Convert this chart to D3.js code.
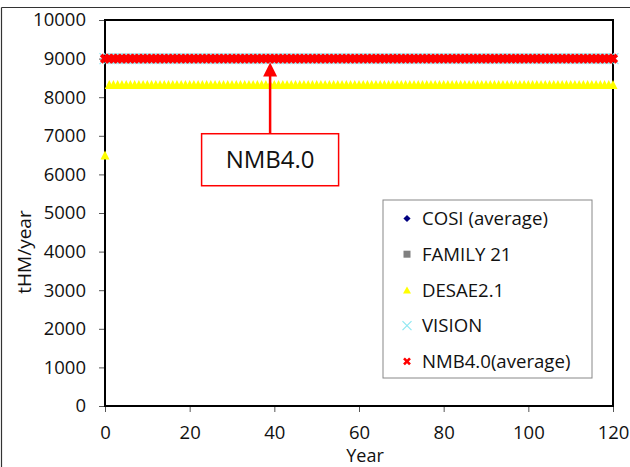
<!DOCTYPE html>
<html>
<head>
<meta charset="utf-8">
<script src="https://cdn.jsdelivr.net/npm/d3@7"></script>
<style>
  html, body { margin: 0; padding: 0; background: #fff; }
  text { font-family: "Open Sans", Lato, sans-serif; fill: #111; }
</style>
</head>
<body>
<svg id="chart" width="630" height="467"></svg>
<script>
// ---- data ----
const years = [
  0, 1, 2, 3, 4, 5, 6, 7, 8, 9, 10, 11, 12, 13, 14, 15, 16, 17, 18, 19,
  20, 21, 22, 23, 24, 25, 26, 27, 28, 29, 30, 31, 32, 33, 34, 35, 36, 37, 38, 39,
  40, 41, 42, 43, 44, 45, 46, 47, 48, 49, 50, 51, 52, 53, 54, 55, 56, 57, 58, 59,
  60, 61, 62, 63, 64, 65, 66, 67, 68, 69, 70, 71, 72, 73, 74, 75, 76, 77, 78, 79,
  80, 81, 82, 83, 84, 85, 86, 87, 88, 89, 90, 91, 92, 93, 94, 95, 96, 97, 98, 99,
  100, 101, 102, 103, 104, 105, 106, 107, 108, 109, 110, 111, 112, 113, 114, 115, 116, 117, 118, 119,
  120
];

// COSI (average) and FAMILY 21 carry no points over this range
const cosiAverage = [];
const family21 = [];

const desae21 = [
  6500, 8330, 8330, 8330, 8330, 8330, 8330, 8330, 8330, 8330, 8330, 8330, 8330, 8330, 8330, 8330, 8330, 8330, 8330, 8330,
  8330, 8330, 8330, 8330, 8330, 8330, 8330, 8330, 8330, 8330, 8330, 8330, 8330, 8330, 8330, 8330, 8330, 8330, 8330, 8330,
  8330, 8330, 8330, 8330, 8330, 8330, 8330, 8330, 8330, 8330, 8330, 8330, 8330, 8330, 8330, 8330, 8330, 8330, 8330, 8330,
  8330, 8330, 8330, 8330, 8330, 8330, 8330, 8330, 8330, 8330, 8330, 8330, 8330, 8330, 8330, 8330, 8330, 8330, 8330, 8330,
  8330, 8330, 8330, 8330, 8330, 8330, 8330, 8330, 8330, 8330, 8330, 8330, 8330, 8330, 8330, 8330, 8330, 8330, 8330, 8330,
  8330, 8330, 8330, 8330, 8330, 8330, 8330, 8330, 8330, 8330, 8330, 8330, 8330, 8330, 8330, 8330, 8330, 8330, 8330, 8330,
  8330
];

const vision = [
  9000, 9000, 9000, 9000, 9000, 9000, 9000, 9000, 9000, 9000, 9000, 9000, 9000, 9000, 9000, 9000, 9000, 9000, 9000, 9000,
  9000, 9000, 9000, 9000, 9000, 9000, 9000, 9000, 9000, 9000, 9000, 9000, 9000, 9000, 9000, 9000, 9000, 9000, 9000, 9000,
  9000, 9000, 9000, 9000, 9000, 9000, 9000, 9000, 9000, 9000, 9000, 9000, 9000, 9000, 9000, 9000, 9000, 9000, 9000, 9000,
  9000, 9000, 9000, 9000, 9000, 9000, 9000, 9000, 9000, 9000, 9000, 9000, 9000, 9000, 9000, 9000, 9000, 9000, 9000, 9000,
  9000, 9000, 9000, 9000, 9000, 9000, 9000, 9000, 9000, 9000, 9000, 9000, 9000, 9000, 9000, 9000, 9000, 9000, 9000, 9000,
  9000, 9000, 9000, 9000, 9000, 9000, 9000, 9000, 9000, 9000, 9000, 9000, 9000, 9000, 9000, 9000, 9000, 9000, 9000, 9000,
  9000
];

const nmb40Average = [
  9000, 9000, 9000, 9000, 9000, 9000, 9000, 9000, 9000, 9000, 9000, 9000, 9000, 9000, 9000, 9000, 9000, 9000, 9000, 9000,
  9000, 9000, 9000, 9000, 9000, 9000, 9000, 9000, 9000, 9000, 9000, 9000, 9000, 9000, 9000, 9000, 9000, 9000, 9000, 9000,
  9000, 9000, 9000, 9000, 9000, 9000, 9000, 9000, 9000, 9000, 9000, 9000, 9000, 9000, 9000, 9000, 9000, 9000, 9000, 9000,
  9000, 9000, 9000, 9000, 9000, 9000, 9000, 9000, 9000, 9000, 9000, 9000, 9000, 9000, 9000, 9000, 9000, 9000, 9000, 9000,
  9000, 9000, 9000, 9000, 9000, 9000, 9000, 9000, 9000, 9000, 9000, 9000, 9000, 9000, 9000, 9000, 9000, 9000, 9000, 9000,
  9000, 9000, 9000, 9000, 9000, 9000, 9000, 9000, 9000, 9000, 9000, 9000, 9000, 9000, 9000, 9000, 9000, 9000, 9000, 9000,
  9000
];

const seriesNames = ["COSI (average)", "FAMILY 21", "DESAE2.1", "VISION", "NMB4.0(average)"];
const xTicks = [0, 20, 40, 60, 80, 100, 120];
const yTicks = [0, 1000, 2000, 3000, 4000, 5000, 6000, 7000, 8000, 9000, 10000];
const xTitle = "Year";
const yTitle = "tHM/year";

// callout pointing at the NMB4.0 line
const calloutText = "NMB4.0";
const calloutYear = 39;
const calloutTipValue = 8900;
const calloutBoxValue = 6380;

// ---- layout ----
const svg = d3.select("#chart");
const plot = { left: 105, right: 613, top: 20, bottom: 406 };
const FONT = "'Open Sans', Lato, sans-serif";

const x = d3.scaleLinear().domain([0, 120]).range([plot.left, plot.right]);
const y = d3.scaleLinear().domain([0, 10000]).range([plot.bottom, plot.top]);

// outer frame (top and left edges)
svg.append("line").attr("x1", 1.5).attr("x2", 630).attr("y1", 7.5).attr("y2", 7.5)
  .attr("stroke", "#333").attr("stroke-width", 1.2);
svg.append("line").attr("x1", 1.5).attr("x2", 1.5).attr("y1", 7.5).attr("y2", 467)
  .attr("stroke", "#333").attr("stroke-width", 1.2);

// axes
const yAxis = d3.axisLeft(y).tickValues(yTicks).tickSize(6).tickPadding(13).tickFormat(d3.format("d"));
const gy = svg.append("g").attr("transform", `translate(${plot.left},0)`).call(yAxis);
gy.select(".domain").remove();
gy.selectAll(".tick line").attr("stroke", "#555");
gy.selectAll(".tick text").attr("font-size", 18.5).style("font-family", FONT).attr("fill", "#111");

const xAxis = d3.axisBottom(x).tickValues(xTicks).tickSize(6).tickPadding(14).tickFormat(d3.format("d"));
const gx = svg.append("g").attr("transform", `translate(0,${plot.bottom})`).call(xAxis);
gx.select(".domain").remove();
gx.selectAll(".tick line").attr("stroke", "#555");
gx.selectAll(".tick text").attr("font-size", 18.5).style("font-family", FONT).attr("fill", "#111");

// plot frame
svg.append("rect")
  .attr("x", plot.left).attr("y", plot.top)
  .attr("width", plot.right - plot.left).attr("height", plot.bottom - plot.top)
  .attr("fill", "none").attr("stroke", "#000").attr("stroke-width", 2);

// axis titles
svg.append("text").attr("x", 365).attr("y", 462).attr("text-anchor", "middle")
  .attr("font-size", 18).text(xTitle);
svg.append("text").attr("transform", "translate(31,252) rotate(-90)").attr("text-anchor", "middle")
  .attr("font-size", 19).text(yTitle);

// ---- marker shapes ----
const xPath = a => `M${-a},${-a}L${a},${a}M${-a},${a}L${a},${-a}`;
const triPath = (w, h) => `M0,${-h / 2}L${w / 2},${h / 2}L${-w / 2},${h / 2}Z`;
const diamondPath = r => `M0,${-r}L${r},0L0,${r}L${-r},0Z`;

const styles = [
  g => g.append("path").attr("d", diamondPath(3.5)).attr("fill", "#000080"),
  g => g.append("rect").attr("x", -3.5).attr("y", -3.5).attr("width", 7).attr("height", 7).attr("fill", "#808080"),
  g => g.append("path").attr("d", triPath(9, 9)).attr("fill", "#ffff00"),
  g => g.append("path").attr("d", xPath(5.5)).attr("stroke", "#8fe8f2").attr("stroke-width", 1.2).attr("fill", "none"),
  g => g.append("path").attr("d", xPath(3.8)).attr("stroke", "#ff0000").attr("stroke-width", 3.8).attr("fill", "none")
];
const legendStyles = [
  g => g.append("path").attr("d", diamondPath(3.6)).attr("fill", "#000080"),
  g => g.append("rect").attr("x", -3.5).attr("y", -3.5).attr("width", 7).attr("height", 7).attr("fill", "#808080"),
  g => g.append("path").attr("d", triPath(8, 7)).attr("fill", "#ffff00"),
  g => g.append("path").attr("d", xPath(4.5)).attr("stroke", "#8fe8f2").attr("stroke-width", 1.2).attr("fill", "none"),
  g => g.append("path").attr("d", xPath(3)).attr("stroke", "#ff0000").attr("stroke-width", 2.6).attr("fill", "none")
];

const seriesValues = [cosiAverage, family21, desae21, vision, nmb40Average];

// ---- series markers, drawn in series order ----
seriesValues.forEach((vals, i) => {
  const pts = vals.map((v, k) => ({ year: years[k], value: v }));
  const g = svg.append("g").attr("class", "series-" + i);
  g.selectAll("g.pt").data(pts).join("g").attr("class", "pt")
    .attr("transform", d => `translate(${x(d.year)},${y(d.value)})`)
    .each(function () { styles[i](d3.select(this)); });
});

// ---- callout ----
const cx = x(calloutYear);
const boxW = 137, boxH = 52;
const boxCy = y(calloutBoxValue);
const tipY = y(calloutTipValue);
svg.append("line").attr("x1", cx).attr("x2", cx).attr("y1", boxCy - boxH / 2).attr("y2", tipY + 12)
  .attr("stroke", "#ff0000").attr("stroke-width", 2.5);
svg.append("path")
  .attr("d", `M${cx},${tipY}L${cx + 7},${tipY + 14}L${cx - 7},${tipY + 14}Z`)
  .attr("fill", "#ff0000");
svg.append("rect").attr("x", cx - boxW / 2).attr("y", boxCy - boxH / 2)
  .attr("width", boxW).attr("height", boxH)
  .attr("fill", "#fff").attr("stroke", "#ff0000").attr("stroke-width", 1.5);
svg.append("text").attr("x", cx).attr("y", boxCy).attr("dy", "0.36em")
  .attr("text-anchor", "middle").attr("font-size", 24).text(calloutText);

// ---- legend ----
const legend = svg.append("g").attr("transform", "translate(383,200)");
legend.append("rect").attr("x", 0).attr("y", 0).attr("width", 209).attr("height", 178)
  .attr("fill", "#fff").attr("stroke", "#888").attr("stroke-width", 1);
seriesNames.forEach((name, i) => {
  const row = legend.append("g").attr("transform", `translate(0,${18.5 + i * 35.7})`);
  legendStyles[i](row.append("g").attr("transform", "translate(24,0)"));
  row.append("text").attr("x", 39).attr("y", 0).attr("dy", "0.36em")
    .attr("font-size", 18.6).text(name);
});
</script>
</body>
</html>
